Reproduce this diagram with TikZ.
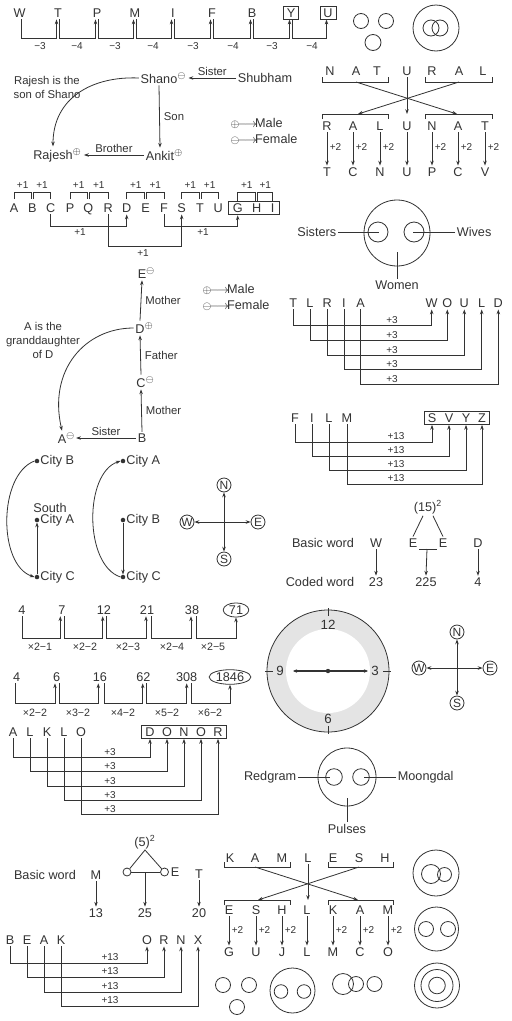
\documentclass[tikz,border=0pt]{standalone}
\usepackage{fontspec}
\setmainfont{Liberation Sans}
\usetikzlibrary{arrows.meta,fit,calc,shapes.geometric}
\definecolor{ink}{HTML}{333333}
\definecolor{band}{HTML}{E4E4E4}
\newcommand\myfs[1]{\fontsize{#1}{#1}\selectfont}
\begin{document}
\begin{tikzpicture}[x=0.75pt,y=-0.75pt,
 ch/.style={font=\myfs{9.5}, text=ink, inner sep=1.2pt, text height=6.9pt, text depth=0pt},
 bxl/.style={ch, draw=ink, line width=0.6pt, inner xsep=2.6pt},
 lb/.style={font=\myfs{7.5}, text=ink, inner sep=0pt},
 tx/.style={font=\fontsize{8.5}{10.5}\selectfont, text=ink, inner sep=1pt},
 nm/.style={font=\myfs{9.5}, text=ink, inner sep=1.2pt},
 ln/.style={draw=ink, line width=0.6pt},
 ar/.style={ln, -{Stealth[length=3.6pt,width=2.6pt]}},
 dar/.style={ln, {Stealth[length=3.6pt,width=2.6pt]}-{Stealth[length=3.6pt,width=2.6pt]}},
 cmp/.style={circle, draw=ink, line width=0.6pt, font=\myfs{9}, text=ink, minimum size=10.5pt, inner sep=0pt},
 dot/.style={circle, fill=ink, inner sep=0pt, minimum size=3.4pt},
 ring/.style={draw=ink, line width=0.6pt},
 sc/.style={circle, draw=ink, line width=0.6pt, minimum size=6pt, inner sep=0pt},
 fbox/.style={draw=ink, line width=0.6pt, inner xsep=1.5pt, inner ysep=0pt},
 leg/.style={font=\myfs{9.5}, text=ink, inner sep=1pt, anchor=west},
]
\useasboundingbox (0,0) rectangle (511,1021);
\fill[white] (0,0) rectangle (511,1021);

% ---------- row 1 : W T P M I F B Y U
\foreach \n/\l/\x in {w/W/19.5, t/T/58, p/P/97, m/M/135, i/I/173, f/F/212, b/B/252}
  \node[ch] (r1\n) at (\x,13) {\l};
\node[bxl] (r1y) at (291,13) {Y};
\node[bxl] (r1u) at (328,13) {U};
\foreach \a/\b/\v/\mx in {w/t/3/40, t/p/4/77, p/m/3/115, m/i/4/153, i/f/3/193, f/b/4/233, b/y/3/272, y/u/4/312}{
  \draw[ar] ($(r1\a.south)+(1.5,0)$) -- ++(0,18.8) -| ($(r1\b.south)+(-1.5,0)$);
  \node[lb] (r1l\a) at (\mx,46) {−\v};
}
\draw[ring] (361,21) circle[radius=7.5];
\draw[ring] (386,21) circle[radius=7.5];
\draw[ring] (373,42.5) circle[radius=8];
\draw[ring] (436,28) circle[radius=23];
\draw[ring] (431,28) circle[radius=8];
\draw[ring] (440,28) circle[radius=8];

% ---------- Rajesh / Shano
\node[nm] (shano) at (159,78) {Shano\rlap{$^{\ominus}$}};
\node[nm] (shubham) at (265,78) {Shubham};
\node[nm] (ankit) at (160,155) {Ankit\rlap{$^{\oplus}$}};
\node[nm] (rajesh) at (53,155) {Rajesh\rlap{$^{\oplus}$}};
\draw[ar] (shubham.west) -- ([xshift=7pt]shano.east) node[midway, above=0.3pt, tx] (sislab) {Sister};
\draw[ar] (shano.south) -- (ankit.north) node[midway, right=2pt, tx] (sonlab) {Son};
\draw[ar] (ankit.west) -- ([xshift=7pt]rajesh.east) node[midway, above=0.3pt, tx] (brolab) {Brother};
\draw[ar] (shano.west) .. controls (92,76) and (53,98) .. (rajesh.north);
\node[tx, align=center] (rnote) at (47,87) {Rajesh is the\\son of Shano};
\node[leg] (leg1a) at (229,123) {{\footnotesize$\oplus$}$\!\longrightarrow\!$Male};
\node[leg] (leg1b) at (229,139) {{\footnotesize$\ominus$}$\!\longrightarrow\!$Female};

% ---------- NATURAL
\foreach \i/\l/\x in {1/N/330, 2/A/356, 3/T/377, 4/U/407, 5/R/432, 6/A/459, 7/L/483}
  \node[ch] (nt\i) at (\x,71) {\l};
\draw[ln] (322,77) -- (322,82) -- (388,82) -- (388,77);
\draw[ln] (425,77) -- (425,82) -- (492,82) -- (492,77);
\draw[ln] (322,119) -- (322,114) -- (388,114) -- (388,119);
\draw[ln] (425,119) -- (425,114) -- (492,114) -- (492,119);
\coordinate (nu1) at (356,82); \coordinate (nu2) at (459,82);
\coordinate (nl1) at (358,114); \coordinate (nl2) at (457,114); \coordinate (nl0) at (407,114);
\draw[ar] (nu1) -- (nl2);
\draw[ar] (nu2) -- (nl1);
\draw[ar] (nt4.south) -- (nl0);
\foreach \i/\l/\m/\x in {1/R/T/327, 2/A/C/353, 3/L/N/380, 4/U/U/407, 5/N/P/432, 6/A/C/458, 7/T/V/485}{
  \node[ch] (nm\i) at (\x,126) {\l};
  \node[ch] (nb\i) at (\x,172) {\m};
  \draw[ar] (nm\i.south) -- (nb\i.north);
}
\foreach \i/\x in {1/327, 2/353, 3/380, 5/432, 6/458, 7/485}
  \node[lb, anchor=west] (np\i) at (\x+2.5,147) {+2};

% ---------- A B C ... G H I
\foreach \i/\l/\x in {1/A/14, 2/B/32.3, 3/C/50.7, 4/P/70, 5/Q/88.3, 6/R/108.3, 7/D/126.7, 8/E/145.7, 9/F/164, 10/S/181.7, 11/T/200, 12/U/218.3, 13/G/237.7, 14/H/256.7, 15/I/272.7}
  \node[ch] (ab\i) at (\x,208) {\l};
\node[draw=ink, line width=0.6pt, inner xsep=2pt, inner ysep=0.3pt, fit=(ab13)(ab15)] (ghi) {};
\foreach \xa/\xb/\yb [count=\k] in {14/31.3/199, 33.3/50.7/199, 70/87.3/199, 89.3/108.3/199, 126.7/144.7/199, 146.7/164/199, 181.7/199/199, 201/218.3/199, 237.7/255.7/201.4, 257.7/272.7/201.4}{
  \draw[ln] (\xa,\yb) -- (\xa,192) -- (\xb,192) -- (\xb,\yb);
  \node[lb] (abp\k) at ({(\xa+\xb)/2},185) {+1};
}
\draw[ar] (ab3.south) -- (ab3.south |- 0,226) -| (ab7.south);
\node[lb] (abq1) at (80,232) {+1};
\draw[ar] (ab6.south) -- (ab6.south |- 0,246) -| (ab10.south);
\node[lb] (abq2) at (143,253) {+1};
\draw[ar] (ab9.south) -- (ab9.south |- 0,226) -| (ab13.south |- ghi.south);
\node[lb] (abq3) at (203,232) {+1};

% ---------- Sisters / Wives / Women
\draw[ring] (397,233) circle[radius=33];
\draw[ring] (378,232) circle[radius=10];
\draw[ring] (414,232) circle[radius=10];
\node[nm, anchor=east] (sisters) at (338,232) {Sisters};
\node[nm, anchor=west] (wives) at (455,232) {Wives};
\node[nm] (women) at (397,285) {Women};
\coordinate (sisc) at (379,232); \coordinate (wivc) at (413,232); \coordinate (womc) at (397,252);
\draw[ln] (sisters.east) -- (sisc);
\draw[ln] (wives.west) -- (wivc);
\draw[ln] (womc) -- (women.north);

% ---------- TLRIA -> WOULD
\foreach \i/\l/\x in {1/T/293.3, 2/L/310, 3/R/327.3, 4/I/344, 5/A/360.7}
  \node[ch] (tl\i) at (\x,303) {\l};
\foreach \i/\l/\x in {1/W/431.7, 2/O/447.3, 3/U/464.3, 4/L/481.7, 5/D/498.3}
  \node[ch] (wo\i) at (\x,303) {\l};
\foreach \i/\y in {1/325, 2/340, 3/355, 4/369, 5/384}{
  \draw[ar] (tl\i.south) -- (tl\i.south |- 0,\y) -| (wo\i.south);
  \node[lb] (tlp\i) at (392,\y-4.8) {+3};
}

% ---------- E D C B A family
\node[nm] (fe) at (142,273) {E\rlap{$^{\ominus}$}};
\node[nm] (fd) at (140,328) {D\rlap{$^{\oplus}$}};
\node[nm] (fc) at (141,382) {C\rlap{$^{\ominus}$}};
\node[nm] (fb) at (142,438) {B};
\node[nm] (fa) at (62,438) {A\rlap{$^{\ominus}$}};
\draw[ar] (fb.north) -- (fc.south) node[midway, right=2pt, tx] (fm1) {Mother};
\draw[ar] (fc.north) -- (fd.south) node[midway, right=2pt, tx] (ff1) {Father};
\draw[ar] (fd.north) -- (fe.south) node[midway, right=2pt, tx] (fm2) {Mother};
\draw[ar] (fb.west) -- ([xshift=6pt]fa.east) node[midway, above=0.3pt, tx] (fsis) {Sister};
\draw[ar] (fd.west) .. controls (85,328) and (48,370) .. (fa.north);
\node[tx, align=center] (anote) at (43,340) {A is the\\granddaughter\\of D};
\node[leg] (leg2a) at (201,289) {{\footnotesize$\oplus$}$\!\longrightarrow\!$Male};
\node[leg] (leg2b) at (201,305) {{\footnotesize$\ominus$}$\!\longrightarrow\!$Female};

% ---------- FILM -> SVYZ
\foreach \i/\l/\x in {1/F/295, 2/I/312, 3/L/329, 4/M/347}
  \node[ch] (fi\i) at (\x,418) {\l};
\foreach \i/\l/\x in {1/S/432, 2/V/449, 3/Y/466, 4/Z/482}
  \node[ch] (sv\i) at (\x,418) {\l};
\node[fbox, fit=(sv1)(sv4)] (svbox) {};
\foreach \i/\y in {1/442, 2/456, 3/470, 4/484}{
  \draw[ar] (fi\i.south) -- (fi\i.south |- 0,\y) -| (sv\i.south |- svbox.south);
  \node[lb] (fip\i) at (396,\y-5.5) {+13};
}

% ---------- WEED
\node[nm] (bw1) at (323,543) {Basic word};
\node[ch] (ww) at (376,543) {W};
\node[ch] (we1) at (413,543) {E};
\node[ch] (we2) at (443,543) {E};
\node[ch] (wd) at (478,543) {D};
\node[nm] (w15) at (428,507) {(15)\textsuperscript{2}};
\draw[ln] ($(w15.south)+(-5,0)$) -- (we1.north);
\draw[ln] ($(w15.south)+(5,0)$) -- (we2.north);
\draw[ln] (we1.south east) -- (we2.south west);
\coordinate (wm) at (427,549);
\node[nm] (cw) at (320,582) {Coded word};
\node[nm] (n23) at (376,582) {23};
\node[nm] (n225) at (426,582) {225};
\node[nm] (n4) at (478,582) {4};
\draw[ar] (ww.south) -- (n23.north);
\draw[ar] (wm) -- (n225.north);
\draw[ar] (wd.south) -- (n4.north);

% ---------- Cities
\node[dot] (cb1) at (37,461) {};
\node[dot] (ca1) at (37,520) {};
\node[dot] (cc1) at (37,577) {};
\node[nm, anchor=west] (cb1t) at (38.5,461) {City B};
\node[nm, anchor=west] (ca1t) at (38.5,520) {City A};
\node[nm, anchor=west] (cc1t) at (38.5,577) {City C};
\node[nm] (south) at (50,508) {South};
\draw[ar] (cc1) -- (ca1);
\draw[ar] (cb1.west) .. controls (-2,475) and (-2,565) .. (cc1.west);
\node[dot] (ca2) at (123,461) {};
\node[dot] (cb2) at (123,520) {};
\node[dot] (cc2) at (123,577) {};
\node[nm, anchor=west] (ca2t) at (124.5,461) {City A};
\node[nm, anchor=west] (cb2t) at (124.5,520) {City B};
\node[nm, anchor=west] (cc2t) at (124.5,577) {City C};
\draw[ar] (cb2) -- (cc2);
\draw[ar] (cc2.west) .. controls (84,565) and (84,473) .. (ca2.west);

% ---------- compass 1
\node[cmp] (cpn1) at (224,485) {N};
\node[cmp] (cps1) at (224,559) {S};
\node[cmp] (cpw1) at (187,522) {W};
\node[cmp] (cpe1) at (258,522) {E};
\draw[dar] (cpn1) -- (cps1);
\draw[dar] (cpw1) -- (cpe1);

% ---------- number sequence 1
\foreach \i/\v/\x in {1/4/22, 2/7/62, 3/12/104, 4/21/147, 5/38/192}
  \node[nm] (sa\i) at (\x,610) {\v};
\node[nm, ellipse, draw=ink, line width=0.6pt, inner xsep=1.5pt, inner ysep=0.5pt] (sa6) at (236,610) {71};
\foreach \a/\b/\oa/\ib/\mx/\lab in {1/2/0/-1.7/40/{×2−1}, 2/3/2.3/-1.3/85/{×2−2}, 3/4/2/-1/128/{×2−3}, 4/5/4.3/-1/172/{×2−4}, 5/6/4.3/0/213/{×2−5}}{
  \coordinate (qa) at ($(sa\a.south)+(\oa,0)$);
  \coordinate (qb) at ($(sa\b.south)+(\ib,0)$);
  \draw[ar] (qa) -- (qa |- 0,638) -| (qb);
  \node[lb, font=\myfs{8}] (sal\a) at (\mx,647) {\lab};
}

% ---------- number sequence 2
\foreach \i/\v/\x in {1/4/16.7, 2/6/56.7, 3/16/100, 4/62/143.3, 5/308/186.7}
  \node[nm] (sb\i) at (\x,677) {\v};
\node[nm, ellipse, draw=ink, line width=0.6pt, inner xsep=0.5pt, inner ysep=0.5pt] (sb6) at (230,677) {1846};
\foreach \a/\b/\oa/\ib/\mx/\lab in {1/2/-1/-1.7/35/{×2−2}, 2/3/2.6/-1.7/78/{×3−2}, 3/4/4/-0.6/123/{×4−2}, 4/5/3.4/0/167/{×5−2}, 5/6/5/0/210/{×6−2}}{
  \coordinate (qa) at ($(sb\a.south)+(\oa,0)$);
  \coordinate (qb) at ($(sb\b.south)+(\ib,0)$);
  \draw[ar] (qa) -- (qa |- 0,703) -| (qb);
  \node[lb, font=\myfs{8}] (sbl\a) at (\mx,713) {\lab};
}

% ---------- ALKLO -> DONOR
\foreach \i/\l/\x in {1/A/13, 2/L/30, 3/K/47, 4/L/64, 5/O/81}
  \node[ch] (al\i) at (\x,732) {\l};
\foreach \i/\l/\x in {1/D/150, 2/O/167, 3/N/184, 4/O/201, 5/R/218}
  \node[ch] (dn\i) at (\x,732) {\l};
\node[fbox, fit=(dn1)(dn5)] (dnbox) {};
\foreach \i/\y in {1/757, 2/771, 3/786, 4/800, 5/814}{
  \draw[ar] (al\i.south) -- (al\i.south |- 0,\y) -| (dn\i.south |- dnbox.south);
  \node[lb] (alp\i) at (110,\y-5) {+3};
}

% ---------- clock
\fill[band] (328,671) circle[radius=61];
\fill[white] (328,671) circle[radius=42];
\draw[ring] (328,671) circle[radius=61];
\draw[ln] (328,608) -- (328,616);
\draw[ln] (328,726) -- (328,734);
\draw[ln] (265,671) -- (273,671);
\draw[ln] (383,671) -- (391,671);
\node[nm, font=\myfs{10}] (c12) at (328,625) {12};
\node[nm, font=\myfs{10}] (c3) at (375,671) {3};
\node[nm, font=\myfs{10}] (c6) at (328,719) {6};
\node[nm, font=\myfs{10}] (c9) at (280,671) {9};
\coordinate (h9) at (293,671);
\coordinate (h3) at (368,671);
\draw[ln, line width=1.1pt, {Stealth[length=3pt,width=2.6pt]}-{Stealth[length=3pt,width=2.6pt]}] (h9) -- (h3);
\fill[ink] (328,671) circle[radius=2.2];

% ---------- compass 2
\node[cmp] (cpn2) at (457,632) {N};
\node[cmp] (cps2) at (457,703) {S};
\node[cmp] (cpw2) at (419,668) {W};
\node[cmp] (cpe2) at (490,668) {E};
\draw[dar] (cpn2) -- (cps2);
\draw[dar] (cpw2) -- (cpe2);

% ---------- Redgram / Moongdal / Pulses
\draw[ring] (347,777) circle[radius=29];
\draw[ring] (334,777) circle[radius=8.3];
\draw[ring] (361,777) circle[radius=8.3];
\node[nm, anchor=east] (redg) at (298,777) {Redgram};
\node[nm, anchor=west] (moong) at (396,777) {Moongdal};
\node[nm] (puls) at (347,829) {Pulses};
\coordinate (rgc) at (330,777); \coordinate (mdc) at (364,777); \coordinate (plc) at (347,798);
\draw[ln] (redg.east) -- (rgc);
\draw[ln] (moong.west) -- (mdc);
\draw[ln] (plc) -- (puls.north);

% ---------- Basic word M ... T
\node[nm] (bw2) at (45,875) {Basic word};
\node[ch] (bm) at (96,875) {M};
\node[ch] (bt) at (199,874) {T};
\node[nm] (b5) at (145,842) {(5)\textsuperscript{2}};
\node[sc] (o1) at (127,872) {};
\node[sc] (o2) at (164.5,872) {};
\node[ch] (be) at (175,872) {E};
\coordinate (apex) at (145,850);
\draw[ln] (o1) -- (apex) -- (o2);
\draw[ln] (o1.east) -- (o2.west);
\coordinate (omid) at (145,872);
\node[nm] (n13) at (96,913) {13};
\node[nm] (n25) at (145,913) {25};
\node[nm] (n20) at (199,913) {20};
\draw[ar] (bm.south) -- (n13.north);
\draw[ar] (omid) -- (n25.north);
\draw[ar] (bt.south) -- (n20.north);

% ---------- BEAK -> ORNX
\foreach \i/\l/\x in {1/B/10, 2/E/27, 3/A/44, 4/K/61}
  \node[ch] (bk\i) at (\x,940) {\l};
\foreach \i/\l/\x in {1/O/147, 2/R/164, 3/N/181, 4/X/198}
  \node[ch] (ox\i) at (\x,940) {\l};
\foreach \i/\y in {1/963, 2/977, 3/992, 4/1006}{
  \draw[ar] (bk\i.south) -- (bk\i.south |- 0,\y) -| (ox\i.south);
  \node[lb] (bkp\i) at (110,\y-5.5) {+13};
}

% ---------- KAMLESH
\foreach \i/\l/\x in {1/K/230, 2/A/255, 3/M/282, 4/L/308, 5/E/333, 6/S/359, 7/H/385}
  \node[ch] (kt\i) at (\x,858) {\l};
\draw[ln] (224,862) -- (224,867) -- (290,867) -- (290,862);
\draw[ln] (328,862) -- (328,867) -- (393,867) -- (393,862);
\draw[ln] (224,905) -- (224,900) -- (290,900) -- (290,905);
\draw[ln] (328,905) -- (328,900) -- (393,900) -- (393,905);
\coordinate (ku1) at (255,867); \coordinate (ku2) at (359,867);
\coordinate (kl1) at (258,900); \coordinate (kl2) at (358,900); \coordinate (kl0) at (308,900);
\draw[ar] (ku1) -- (kl2);
\draw[ar] (ku2) -- (kl1);
\draw[ar] (kt4.south) -- (kl0);
\foreach \i/\l/\m/\x in {1/E/G/229, 2/S/U/256, 3/H/J/282, 4/L/L/307, 5/K/M/333, 6/A/C/360, 7/M/O/388}{
  \node[ch] (km\i) at (\x,910) {\l};
  \node[ch] (kb\i) at (\x,952) {\m};
  \draw[ar] (km\i.south) -- (kb\i.north);
}
\foreach \i/\x in {1/229, 2/256, 3/282, 5/333, 6/360, 7/388}
  \node[lb, anchor=west] (kp\i) at (\x+2.5,930) {+2};

% ---------- bottom circles
\draw[ring] (223,985) circle[radius=7.5];
\draw[ring] (249,985) circle[radius=7.5];
\draw[ring] (237,1007) circle[radius=7.5];
\draw[ring] (292.5,990.5) circle[radius=22.5];
\draw[ring] (281,991.5) circle[radius=6.8];
\draw[ring] (304,991.5) circle[radius=6.8];
\draw[ring] (343,984) circle[radius=10.5];
\draw[ring] (356,984) circle[radius=7.5];
\draw[ring] (374.5,984) circle[radius=7.5];
% right column
\draw[ring] (436,873) circle[radius=23];
\draw[ring] (431,874) circle[radius=9.5];
\draw[ring] (444.5,874.5) circle[radius=7];
\draw[ring] (436.5,929) circle[radius=22];
\draw[ring] (426,929) circle[radius=7.5];
\draw[ring] (448,929) circle[radius=7.5];
\draw[ring] (437,985.5) circle[radius=22.5];
\draw[ring] (437,985.5) circle[radius=16];
\draw[ring] (437,985.5) circle[radius=8.3];
\end{tikzpicture}
\end{document}
